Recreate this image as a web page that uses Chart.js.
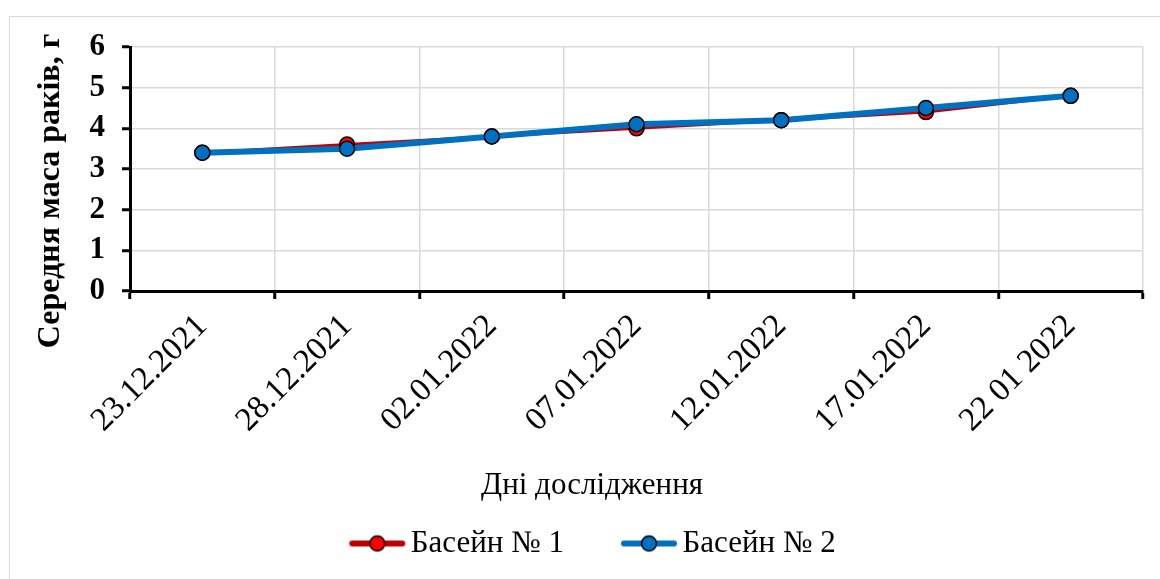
<!DOCTYPE html>
<html lang="uk">
<head>
  <meta charset="UTF-8">
  <title>Середня маса раків</title>
  <script src="https://cdn.jsdelivr.net/npm/chart.js"></script>
  <style>
    body { margin: 0; width: 1160px; height: 579px; overflow: hidden; background: #fff; position: relative; }
    #frame { position: absolute; left: 9px; top: 16px; width: 1200px; height: 620px; border: 1.5px solid #d9d9d9; }
    #wrap { position: absolute; left: 0; top: 0; width: 1160px; height: 579px; }
  </style>
</head>
<body>
  <div id="frame"></div>
  <div id="wrap"><canvas id="chart"></canvas></div>

  <script>
    const days = ['23.12.2021', '28.12.2021', '02.01.2022', '07.01.2022', '12.01.2022', '17.01.2022', '22 01 2022'];
    const pool1 = [3.4, 3.6, 3.8, 4.0, 4.2, 4.4, 4.8];
    const pool2 = [3.4, 3.5, 3.8, 4.1, 4.2, 4.5, 4.8];
    const yTitle = 'Середня маса раків, г';
    const xTitle = 'Дні дослідження';

    const serif = '"Liberation Serif", "Times New Roman", serif';

    // legend marker: short line with a circle on it
    function legendMark(lineColor, fill) {
      const c = document.createElement('canvas');
      c.width = 70; c.height = 24;
      const g = c.getContext('2d');
      g.strokeStyle = lineColor;
      g.lineWidth = 6;
      g.lineCap = 'round';
      g.beginPath(); g.moveTo(15, 12); g.lineTo(65, 12); g.stroke();
      g.beginPath(); g.arc(40, 12, 7.5, 0, Math.PI * 2);
      g.fillStyle = fill; g.fill();
      g.lineWidth = 1.5; g.strokeStyle = '#000'; g.stroke();
      return c;
    }

    const axisTitles = {
      id: 'axisTitles',
      afterDraw(chart) {
        const ctx = chart.ctx;
        ctx.save();
        ctx.fillStyle = '#000';
        ctx.textAlign = 'center';
        ctx.textBaseline = 'middle';
        ctx.font = 'bold 32px ' + serif;
        ctx.translate(51, 191);
        ctx.rotate(-Math.PI / 2);
        ctx.fillText(yTitle, 0, 0);
        ctx.restore();
        ctx.save();
        ctx.fillStyle = '#000';
        ctx.textAlign = 'center';
        ctx.textBaseline = 'middle';
        ctx.font = '31px ' + serif;
        ctx.fillText(xTitle, 592, 486);
        ctx.restore();
      }
    };

    new Chart(document.getElementById('chart'), {
      type: 'line',
      data: {
        labels: days,
        datasets: [
          { label: 'Басейн № 1', data: pool1, borderColor: '#c00000', borderWidth: 3,
            pointBackgroundColor: '#ff0000', pointBorderColor: '#000', pointBorderWidth: 1.5,
            pointRadius: 7.5, pointStyle: 'circle', order: 1, tension: 0 },
          { label: 'Басейн № 2', data: pool2, borderColor: '#0070c0', borderWidth: 6,
            pointBackgroundColor: '#0070c0', pointBorderColor: '#000', pointBorderWidth: 1.5,
            pointRadius: 7.5, pointStyle: 'circle', order: 0, tension: 0 }
        ]
      },
      options: {
        responsive: true,
        maintainAspectRatio: false,
        animation: false,
        layout: { padding: { left: 42, right: 17, top: 47, bottom: 10 } },
        plugins: {
          tooltip: { enabled: false },
          legend: {
            position: 'bottom',
            labels: {
              usePointStyle: true,
              pointStyleWidth: 46,
              padding: 57,
              color: '#000',
              font: { family: serif, size: 31 },
              sort: (a, b) => a.datasetIndex - b.datasetIndex,
              generateLabels(chart) {
                return chart.data.datasets.map((ds, i) => ({
                  text: ds.label,
                  datasetIndex: i,
                  fontColor: '#000',
                  lineWidth: 0,
                  pointStyle: i === 0 ? legendMark('#c00000', '#ff0000') : legendMark('#0070c0', '#0070c0')
                }));
              }
            }
          }
        },
        scales: {
          x: {
            offset: true,
            grid: { offset: true, color: '#d9d9d9', lineWidth: 1.5, tickColor: '#000', tickWidth: 3, tickLength: 8 },
            border: { color: '#000', width: 3 },
            ticks: { autoSkip: false, minRotation: 45, maxRotation: 45, color: '#000', padding: 8,
                     font: { family: serif, size: 33 } },
            afterFit(scale) { scale.height = 180; }
          },
          y: {
            min: 0, max: 6,
            grid: { color: '#d9d9d9', lineWidth: 1.5, tickColor: '#000', tickWidth: 3, tickLength: 8 },
            border: { color: '#000', width: 3 },
            ticks: { stepSize: 1, autoSkip: false, color: '#000', padding: 17,
                     font: { family: serif, size: 31, weight: 'bold' } },
            afterFit(scale) { scale.width = 88; }
          }
        }
      },
      plugins: [axisTitles]
    });
  </script>
</body>
</html>
